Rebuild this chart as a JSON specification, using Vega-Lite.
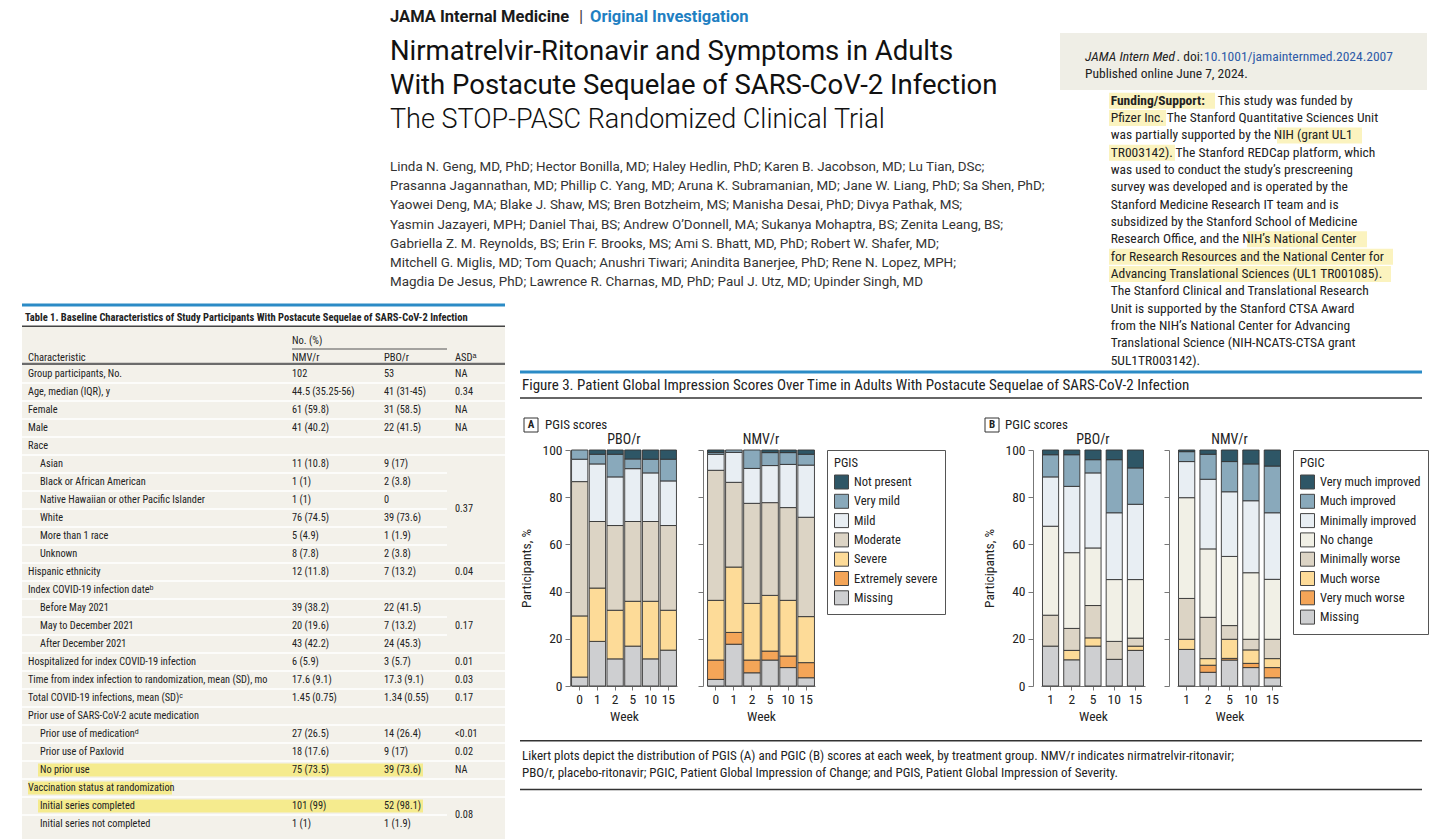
{
"$schema":"https://vega.github.io/schema/vega-lite/v6.json",
"padding":0,
"background":"white",
"columns":7,
"spacing":0,
"bounds":"flush",
"align":"each",
"resolve":{"scale":{"color":"independent"},"legend":{"color":"independent"}},
"datasets":{
"pgis":[
{"g":"PBO/r","w":"0","c":"Missing","v":3.8,"r":1},{"g":"PBO/r","w":"0","c":"Severe","v":25.9,"r":3},{"g":"PBO/r","w":"0","c":"Moderate","v":56.9,"r":4},{"g":"PBO/r","w":"0","c":"Mild","v":9.5,"r":5},{"g":"PBO/r","w":"0","c":"Very mild","v":3.9,"r":6},
{"g":"PBO/r","w":"1","c":"Missing","v":18.9,"r":1},{"g":"PBO/r","w":"1","c":"Severe","v":22.6,"r":3},{"g":"PBO/r","w":"1","c":"Moderate","v":28.2,"r":4},{"g":"PBO/r","w":"1","c":"Mild","v":24.4,"r":5},{"g":"PBO/r","w":"1","c":"Very mild","v":4.1,"r":6},{"g":"PBO/r","w":"1","c":"Not present","v":1.8,"r":7},
{"g":"PBO/r","w":"2","c":"Missing","v":11.5,"r":1},{"g":"PBO/r","w":"2","c":"Severe","v":20.6,"r":3},{"g":"PBO/r","w":"2","c":"Moderate","v":35.9,"r":4},{"g":"PBO/r","w":"2","c":"Mild","v":20.6,"r":5},{"g":"PBO/r","w":"2","c":"Very mild","v":9.6,"r":6},{"g":"PBO/r","w":"2","c":"Not present","v":1.8,"r":7},
{"g":"PBO/r","w":"5","c":"Missing","v":16.9,"r":1},{"g":"PBO/r","w":"5","c":"Severe","v":19.0,"r":3},{"g":"PBO/r","w":"5","c":"Moderate","v":33.8,"r":4},{"g":"PBO/r","w":"5","c":"Mild","v":22.4,"r":5},{"g":"PBO/r","w":"5","c":"Very mild","v":4.1,"r":6},{"g":"PBO/r","w":"5","c":"Not present","v":3.8,"r":7},
{"g":"PBO/r","w":"10","c":"Missing","v":11.5,"r":1},{"g":"PBO/r","w":"10","c":"Severe","v":24.4,"r":3},{"g":"PBO/r","w":"10","c":"Moderate","v":33.8,"r":4},{"g":"PBO/r","w":"10","c":"Mild","v":20.6,"r":5},{"g":"PBO/r","w":"10","c":"Very mild","v":5.8,"r":6},{"g":"PBO/r","w":"10","c":"Not present","v":3.9,"r":7},
{"g":"PBO/r","w":"15","c":"Missing","v":15.2,"r":1},{"g":"PBO/r","w":"15","c":"Severe","v":16.9,"r":3},{"g":"PBO/r","w":"15","c":"Moderate","v":35.9,"r":4},{"g":"PBO/r","w":"15","c":"Mild","v":18.9,"r":5},{"g":"PBO/r","w":"15","c":"Very mild","v":9.2,"r":6},{"g":"PBO/r","w":"15","c":"Not present","v":3.9,"r":7},
{"g":"NMV/r","w":"0","c":"Missing","v":2.8,"r":1},{"g":"NMV/r","w":"0","c":"Extremely severe","v":8.2,"r":2},{"g":"NMV/r","w":"0","c":"Severe","v":25.3,"r":3},{"g":"NMV/r","w":"0","c":"Moderate","v":55.1,"r":4},{"g":"NMV/r","w":"0","c":"Mild","v":6.8,"r":5},{"g":"NMV/r","w":"0","c":"Very mild","v":0.8,"r":6},{"g":"NMV/r","w":"0","c":"Not present","v":1.0,"r":7},
{"g":"NMV/r","w":"1","c":"Missing","v":17.7,"r":1},{"g":"NMV/r","w":"1","c":"Extremely severe","v":5.0,"r":2},{"g":"NMV/r","w":"1","c":"Severe","v":27.7,"r":3},{"g":"NMV/r","w":"1","c":"Moderate","v":35.9,"r":4},{"g":"NMV/r","w":"1","c":"Mild","v":12.7,"r":5},{"g":"NMV/r","w":"1","c":"Very mild","v":1.0,"r":6},
{"g":"NMV/r","w":"2","c":"Missing","v":5.6,"r":1},{"g":"NMV/r","w":"2","c":"Extremely severe","v":5.4,"r":2},{"g":"NMV/r","w":"2","c":"Severe","v":24.0,"r":3},{"g":"NMV/r","w":"2","c":"Moderate","v":42.4,"r":4},{"g":"NMV/r","w":"2","c":"Mild","v":14.8,"r":5},{"g":"NMV/r","w":"2","c":"Very mild","v":7.8,"r":6},
{"g":"NMV/r","w":"5","c":"Missing","v":11.0,"r":1},{"g":"NMV/r","w":"5","c":"Extremely severe","v":3.8,"r":2},{"g":"NMV/r","w":"5","c":"Severe","v":23.6,"r":3},{"g":"NMV/r","w":"5","c":"Moderate","v":39.3,"r":4},{"g":"NMV/r","w":"5","c":"Mild","v":15.7,"r":5},{"g":"NMV/r","w":"5","c":"Very mild","v":5.5,"r":6},{"g":"NMV/r","w":"5","c":"Not present","v":1.1,"r":7},
{"g":"NMV/r","w":"10","c":"Missing","v":7.8,"r":1},{"g":"NMV/r","w":"10","c":"Extremely severe","v":4.9,"r":2},{"g":"NMV/r","w":"10","c":"Severe","v":23.6,"r":3},{"g":"NMV/r","w":"10","c":"Moderate","v":39.3,"r":4},{"g":"NMV/r","w":"10","c":"Mild","v":18.3,"r":5},{"g":"NMV/r","w":"10","c":"Very mild","v":5.0,"r":6},{"g":"NMV/r","w":"10","c":"Not present","v":1.1,"r":7},
{"g":"NMV/r","w":"15","c":"Missing","v":3.5,"r":1},{"g":"NMV/r","w":"15","c":"Extremely severe","v":6.4,"r":2},{"g":"NMV/r","w":"15","c":"Severe","v":19.5,"r":3},{"g":"NMV/r","w":"15","c":"Moderate","v":42.1,"r":4},{"g":"NMV/r","w":"15","c":"Mild","v":22.1,"r":5},{"g":"NMV/r","w":"15","c":"Very mild","v":4.6,"r":6},{"g":"NMV/r","w":"15","c":"Not present","v":1.8,"r":7}
],
"pgic":[
{"g":"PBO/r","w":"1","c":"Missing","v":16.9,"r":1},{"g":"PBO/r","w":"1","c":"Minimally worse","v":13.1,"r":4},{"g":"PBO/r","w":"1","c":"No change","v":37.7,"r":5},{"g":"PBO/r","w":"1","c":"Minimally improved","v":20.9,"r":6},{"g":"PBO/r","w":"1","c":"Much improved","v":9.4,"r":7},{"g":"PBO/r","w":"1","c":"Very much improved","v":2.0,"r":8},
{"g":"PBO/r","w":"2","c":"Missing","v":11.1,"r":1},{"g":"PBO/r","w":"2","c":"Much worse","v":4.0,"r":3},{"g":"PBO/r","w":"2","c":"Minimally worse","v":9.3,"r":4},{"g":"PBO/r","w":"2","c":"No change","v":32.1,"r":5},{"g":"PBO/r","w":"2","c":"Minimally improved","v":28.1,"r":6},{"g":"PBO/r","w":"2","c":"Much improved","v":13.4,"r":7},{"g":"PBO/r","w":"2","c":"Very much improved","v":2.0,"r":8},
{"g":"PBO/r","w":"5","c":"Missing","v":16.9,"r":1},{"g":"PBO/r","w":"5","c":"Much worse","v":3.5,"r":3},{"g":"PBO/r","w":"5","c":"Minimally worse","v":13.7,"r":4},{"g":"PBO/r","w":"5","c":"No change","v":24.4,"r":5},{"g":"PBO/r","w":"5","c":"Minimally improved","v":31.8,"r":6},{"g":"PBO/r","w":"5","c":"Much improved","v":5.6,"r":7},{"g":"PBO/r","w":"5","c":"Very much improved","v":4.1,"r":8},
{"g":"PBO/r","w":"10","c":"Missing","v":11.3,"r":1},{"g":"PBO/r","w":"10","c":"Minimally worse","v":7.6,"r":4},{"g":"PBO/r","w":"10","c":"No change","v":26.2,"r":5},{"g":"PBO/r","w":"10","c":"Minimally improved","v":28.3,"r":6},{"g":"PBO/r","w":"10","c":"Much improved","v":22.5,"r":7},{"g":"PBO/r","w":"10","c":"Very much improved","v":4.1,"r":8},
{"g":"PBO/r","w":"15","c":"Missing","v":15.1,"r":1},{"g":"PBO/r","w":"15","c":"Much worse","v":1.8,"r":3},{"g":"PBO/r","w":"15","c":"Minimally worse","v":3.4,"r":4},{"g":"PBO/r","w":"15","c":"No change","v":24.8,"r":5},{"g":"PBO/r","w":"15","c":"Minimally improved","v":31.9,"r":6},{"g":"PBO/r","w":"15","c":"Much improved","v":15.4,"r":7},{"g":"PBO/r","w":"15","c":"Very much improved","v":7.6,"r":8},
{"g":"NMV/r","w":"1","c":"Missing","v":15.5,"r":1},{"g":"NMV/r","w":"1","c":"Much worse","v":4.3,"r":3},{"g":"NMV/r","w":"1","c":"Minimally worse","v":17.3,"r":4},{"g":"NMV/r","w":"1","c":"No change","v":42.7,"r":5},{"g":"NMV/r","w":"1","c":"Minimally improved","v":15.3,"r":6},{"g":"NMV/r","w":"1","c":"Much improved","v":4.2,"r":7},{"g":"NMV/r","w":"1","c":"Very much improved","v":0.7,"r":8},
{"g":"NMV/r","w":"2","c":"Missing","v":5.8,"r":1},{"g":"NMV/r","w":"2","c":"Very much worse","v":3.0,"r":2},{"g":"NMV/r","w":"2","c":"Much worse","v":2.8,"r":3},{"g":"NMV/r","w":"2","c":"Minimally worse","v":17.5,"r":4},{"g":"NMV/r","w":"2","c":"No change","v":29.0,"r":5},{"g":"NMV/r","w":"2","c":"Minimally improved","v":29.5,"r":6},{"g":"NMV/r","w":"2","c":"Much improved","v":10.6,"r":7},{"g":"NMV/r","w":"2","c":"Very much improved","v":1.8,"r":8},
{"g":"NMV/r","w":"5","c":"Missing","v":11.0,"r":1},{"g":"NMV/r","w":"5","c":"Very much worse","v":0.7,"r":2},{"g":"NMV/r","w":"5","c":"Much worse","v":8.1,"r":3},{"g":"NMV/r","w":"5","c":"Minimally worse","v":5.8,"r":4},{"g":"NMV/r","w":"5","c":"No change","v":29.3,"r":5},{"g":"NMV/r","w":"5","c":"Minimally improved","v":27.4,"r":6},{"g":"NMV/r","w":"5","c":"Much improved","v":12.8,"r":7},{"g":"NMV/r","w":"5","c":"Very much improved","v":4.9,"r":8},
{"g":"NMV/r","w":"10","c":"Missing","v":7.8,"r":1},{"g":"NMV/r","w":"10","c":"Very much worse","v":1.8,"r":2},{"g":"NMV/r","w":"10","c":"Much worse","v":5.7,"r":3},{"g":"NMV/r","w":"10","c":"Minimally worse","v":4.5,"r":4},{"g":"NMV/r","w":"10","c":"No change","v":28.2,"r":5},{"g":"NMV/r","w":"10","c":"Minimally improved","v":30.5,"r":6},{"g":"NMV/r","w":"10","c":"Much improved","v":15.6,"r":7},{"g":"NMV/r","w":"10","c":"Very much improved","v":5.9,"r":8},
{"g":"NMV/r","w":"15","c":"Missing","v":3.5,"r":1},{"g":"NMV/r","w":"15","c":"Very much worse","v":4.3,"r":2},{"g":"NMV/r","w":"15","c":"Much worse","v":3.8,"r":3},{"g":"NMV/r","w":"15","c":"Minimally worse","v":8.2,"r":4},{"g":"NMV/r","w":"15","c":"No change","v":25.4,"r":5},{"g":"NMV/r","w":"15","c":"Minimally improved","v":28.2,"r":6},{"g":"NMV/r","w":"15","c":"Much improved","v":19.8,"r":7},{"g":"NMV/r","w":"15","c":"Very much improved","v":6.8,"r":8}
],
"tbl":[
{"row":1,"ch":"Group participants, No.","ind":0,"n":"102","p":"53"},
{"row":2,"ch":"Age, median (IQR), y","ind":0,"n":"44.5 (35.25-56)","p":"41 (31-45)"},
{"row":3,"ch":"Female","ind":0,"n":"61 (59.8)","p":"31 (58.5)"},
{"row":4,"ch":"Male","ind":0,"n":"41 (40.2)","p":"22 (41.5)"},
{"row":5,"ch":"Race","ind":0,"n":"","p":""},
{"row":6,"ch":"Asian","ind":1,"n":"11 (10.8)","p":"9 (17)","sep":"g"},
{"row":7,"ch":"Black or African American","ind":1,"n":"1 (1)","p":"2 (3.8)","sep":"g"},
{"row":8,"ch":"Native Hawaiian or other Pacific Islander","ind":1,"n":"1 (1)","p":"0","sep":"g"},
{"row":9,"ch":"White","ind":1,"n":"76 (74.5)","p":"39 (73.6)","sep":"g"},
{"row":10,"ch":"More than 1 race","ind":1,"n":"5 (4.9)","p":"1 (1.9)","sep":"g"},
{"row":11,"ch":"Unknown","ind":1,"n":"8 (7.8)","p":"2 (3.8)"},
{"row":12,"ch":"Hispanic ethnicity","ind":0,"n":"12 (11.8)","p":"7 (13.2)"},
{"row":13,"ch":"Index COVID-19 infection dateᵇ","ind":0,"n":"","p":""},
{"row":14,"ch":"Before May 2021","ind":1,"n":"39 (38.2)","p":"22 (41.5)","sep":"g"},
{"row":15,"ch":"May to December 2021","ind":1,"n":"20 (19.6)","p":"7 (13.2)","sep":"g"},
{"row":16,"ch":"After December 2021","ind":1,"n":"43 (42.2)","p":"24 (45.3)"},
{"row":17,"ch":"Hospitalized for index COVID-19 infection","ind":0,"n":"6 (5.9)","p":"3 (5.7)"},
{"row":18,"ch":"Time from index infection to randomization, mean (SD), mo","ind":0,"n":"17.6 (9.1)","p":"17.3 (9.1)"},
{"row":19,"ch":"Total COVID-19 infections, mean (SD)ᶜ","ind":0,"n":"1.45 (0.75)","p":"1.34 (0.55)"},
{"row":20,"ch":"Prior use of SARS-CoV-2 acute medication","ind":0,"n":"","p":""},
{"row":21,"ch":"Prior use of medicationᵈ","ind":1,"n":"27 (26.5)","p":"14 (26.4)"},
{"row":22,"ch":"Prior use of Paxlovid","ind":1,"n":"18 (17.6)","p":"9 (17)"},
{"row":23,"ch":"No prior use","ind":1,"n":"75 (73.5)","p":"39 (73.6)","hl":"f"},
{"row":24,"ch":"Vaccination status at randomization","ind":0,"n":"","p":"","hl":"l"},
{"row":25,"ch":"Initial series completed","ind":1,"n":"101 (99)","p":"52 (98.1)","hl":"f","sep":"g"},
{"row":26,"ch":"Initial series not completed","ind":1,"n":"1 (1)","p":"1 (1.9)","sep":"none"}
],
"asd":[
{"row":1,"t":"NA"},{"row":2,"t":"0.34"},{"row":3,"t":"NA"},{"row":4,"t":"NA"},{"row":8.5,"t":"0.37"},{"row":12,"t":"0.04"},{"row":15,"t":"0.17"},{"row":17,"t":"0.01"},{"row":18,"t":"0.03"},{"row":19,"t":"0.17"},{"row":21,"t":"<0.01"},{"row":22,"t":"0.02"},{"row":23,"t":"NA"},{"row":25.5,"t":"0.08"}
]
},
"concat":[
{"width":22,"height":33,"data":{"values":[]},"mark":"point","encoding":{}},
{"width":498,"height":33,
 "layer":[
  {"data":{"values":[{"t":"JAMA Internal Medicine"}]},"mark":{"type":"text","font":"Roboto","fontSize":16.5,"fontWeight":"bold","color":"#1a1a1a"},"encoding":{"text":{"field":"t"},"x":{"value":368},"y":{"value":17}}},
  {"data":{"values":[{"t":"|"}]},"mark":{"type":"text","font":"Roboto","fontSize":17,"color":"#444"},"encoding":{"text":{"field":"t"},"x":{"value":557},"y":{"value":17}}},
  {"data":{"values":[{"t":"Original Investigation"}]},"mark":{"type":"text","font":"Roboto","fontSize":16.5,"fontWeight":"bold","color":"#1f80c2"},"encoding":{"text":{"field":"t"},"x":{"value":568},"y":{"value":17}}},
  {"data":{"values":[{"i":1,"t":"Nirmatrelvir-Ritonavir and Symptoms in Adults"},{"i":2,"t":"With Postacute Sequelae of SARS-CoV-2 Infection"}]},"mark":{"type":"text","font":"Roboto","fontSize":27.5,"color":"#111"},"encoding":{"text":{"field":"t"},"x":{"value":368},"y":{"field":"i","type":"quantitative","scale":{"domain":[1,2],"range":[52,86],"nice":false,"zero":false},"axis":null}}},
  {"data":{"values":[{"t":"The STOP-PASC Randomized Clinical Trial"}]},"mark":{"type":"text","font":"Roboto","fontSize":27,"fontWeight":300,"color":"#111"},"encoding":{"text":{"field":"t"},"x":{"value":368},"y":{"value":120}}},
  {"data":{"values":[
   {"j":1,"t":"Linda N. Geng, MD, PhD; Hector Bonilla, MD; Haley Hedlin, PhD; Karen B. Jacobson, MD; Lu Tian, DSc;"},
   {"j":2,"t":"Prasanna Jagannathan, MD; Phillip C. Yang, MD; Aruna K. Subramanian, MD; Jane W. Liang, PhD; Sa Shen, PhD;"},
   {"j":3,"t":"Yaowei Deng, MA; Blake J. Shaw, MS; Bren Botzheim, MS; Manisha Desai, PhD; Divya Pathak, MS;"},
   {"j":4,"t":"Yasmin Jazayeri, MPH; Daniel Thai, BS; Andrew O’Donnell, MA; Sukanya Mohaptra, BS; Zenita Leang, BS;"},
   {"j":5,"t":"Gabriella Z. M. Reynolds, BS; Erin F. Brooks, MS; Ami S. Bhatt, MD, PhD; Robert W. Shafer, MD;"},
   {"j":6,"t":"Mitchell G. Miglis, MD; Tom Quach; Anushri Tiwari; Anindita Banerjee, PhD; Rene N. Lopez, MPH;"},
   {"j":7,"t":"Magdia De Jesus, PhD; Lawrence R. Charnas, MD, PhD; Paul J. Utz, MD; Upinder Singh, MD"}]},
   "mark":{"type":"text","font":"Roboto","fontSize":13.4,"color":"#333"},"encoding":{"text":{"field":"t"},"x":{"value":368},"y":{"field":"j","type":"quantitative","scale":{"domain":[1,7],"range":[167,282],"nice":false,"zero":false},"axis":null}}}
 ],
 "resolve":{"scale":{"y":"independent"}}},
{"width":51,"height":1,"data":{"values":[]},"mark":"point","encoding":{}},
{"width":136,"height":1,"data":{"values":[]},"mark":"point","encoding":{}},
{"width":334,"height":1,"data":{"values":[]},"mark":"point","encoding":{}},
{"width":136,"height":1,"data":{"values":[]},"mark":"point","encoding":{}},
{"width":279,"height":1,"data":{"values":[]},"mark":"point","encoding":{}},

{"width":22,"height":270,"data":{"values":[]},"mark":"point","encoding":{}},
{"width":1,"height":1,"data":{"values":[]},"mark":"point","encoding":{}},
{"width":1,"height":1,"data":{"values":[]},"mark":"point","encoding":{}},
{"width":1,"height":1,"data":{"values":[]},"mark":"point","encoding":{}},
{"width":1,"height":1,"data":{"values":[]},"mark":"point","encoding":{}},
{"width":136,"height":270,
 "layer":[
  {"data":{"values":[{}]},"mark":{"type":"rect","color":"#efeee6"},"encoding":{"x":{"value":19},"x2":{"value":386},"y":{"value":0},"y2":{"value":57}}},
  {"data":{"values":[{}]},"mark":{"type":"rule","color":"#fbf3bf","strokeWidth":16},"encoding":{"x":{"value":68},"x2":{"value":174},"y":{"value":67.7}}},
  {"data":{"values":[{}]},"mark":{"type":"rule","color":"#fbf3bf","strokeWidth":16},"encoding":{"x":{"value":68},"x2":{"value":125},"y":{"value":85.0}}},
  {"data":{"values":[{}]},"mark":{"type":"rule","color":"#fbf3bf","strokeWidth":16},"encoding":{"x":{"value":236},"x2":{"value":321},"y":{"value":102.4}}},
  {"data":{"values":[{}]},"mark":{"type":"rule","color":"#fbf3bf","strokeWidth":16},"encoding":{"x":{"value":68},"x2":{"value":134},"y":{"value":119.7}}},
  {"data":{"values":[{}]},"mark":{"type":"rule","color":"#fbf3bf","strokeWidth":16},"encoding":{"x":{"value":206},"x2":{"value":326},"y":{"value":206.3}}},
  {"data":{"values":[{}]},"mark":{"type":"rule","color":"#fbf3bf","strokeWidth":16},"encoding":{"x":{"value":68},"x2":{"value":352},"y":{"value":223.7}}},
  {"data":{"values":[{}]},"mark":{"type":"rule","color":"#fbf3bf","strokeWidth":16},"encoding":{"x":{"value":68},"x2":{"value":350},"y":{"value":241.0}}},
  {"data":{"values":[{"t":"JAMA Intern Med"}]},"mark":{"type":"text","fontSize":13.5,"fontStyle":"italic","color":"#222"},"encoding":{"text":{"field":"t"},"x":{"value":44},"y":{"value":24}}},
  {"data":{"values":[{"t":". doi:"}]},"mark":{"type":"text","align":"right","fontSize":13.5,"color":"#222"},"encoding":{"text":{"field":"t"},"x":{"value":162},"y":{"value":24}}},
  {"data":{"values":[{"t":"10.1001/jamainternmed.2024.2007"}]},"mark":{"type":"text","fontSize":13.5,"color":"#2e5aa6"},"encoding":{"text":{"field":"t"},"x":{"value":163},"y":{"value":24}}},
  {"data":{"values":[{"t":"Published online June 7, 2024."}]},"mark":{"type":"text","fontSize":13.5,"color":"#222"},"encoding":{"text":{"field":"t"},"x":{"value":44},"y":{"value":41}}},
  {"data":{"values":[{"t":"Funding/Support:"}]},"mark":{"type":"text","fontSize":13.5,"fontWeight":"bold","color":"#222"},"encoding":{"text":{"field":"t"},"x":{"value":69.7},"y":{"value":67.7}}},
  {"data":{"values":[{"t":"This study was funded by"}]},"mark":{"type":"text","fontSize":13.5,"color":"#222"},"encoding":{"text":{"field":"t"},"x":{"value":176.7},"y":{"value":67.7}}},
  {"data":{"values":[
   {"i":2,"t":"Pfizer Inc. The Stanford Quantitative Sciences Unit"},
   {"i":3,"t":"was partially supported by the NIH (grant UL1"},
   {"i":4,"t":"TR003142). The Stanford REDCap platform, which"},
   {"i":5,"t":"was used to conduct the study’s prescreening"},
   {"i":6,"t":"survey was developed and is operated by the"},
   {"i":7,"t":"Stanford Medicine Research IT team and is"},
   {"i":8,"t":"subsidized by the Stanford School of Medicine"},
   {"i":9,"t":"Research Office, and the NIH’s National Center"},
   {"i":10,"t":"for Research Resources and the National Center for"},
   {"i":11,"t":"Advancing Translational Sciences (UL1 TR001085)."},
   {"i":12,"t":"The Stanford Clinical and Translational Research"},
   {"i":13,"t":"Unit is supported by the Stanford CTSA Award"},
   {"i":14,"t":"from the NIH’s National Center for Advancing"},
   {"i":15,"t":"Translational Science (NIH-NCATS-CTSA grant"},
   {"i":16,"t":"5UL1TR003142)."}]},
   "mark":{"type":"text","fontSize":13.5,"color":"#222"},"encoding":{"text":{"field":"t"},"x":{"value":69.7},"y":{"field":"i","type":"quantitative","scale":{"domain":[2,16],"range":[85.0,327.7],"nice":false,"zero":false},"axis":null}}}
 ]},
{"width":1,"height":1,"data":{"values":[]},"mark":"point","encoding":{}},

{"width":22,"height":24,"data":{"values":[]},"mark":"point","encoding":{}},
{"width":483,"height":24,
 "layer":[
  {"data":{"values":[{}]},"mark":{"type":"rule","color":"#2b8bc6","strokeWidth":3},"encoding":{"x":{"value":0},"x2":{"value":"width"},"y":{"value":2}}},
  {"data":{"values":[{"t":"Table 1. Baseline Characteristics of Study Participants With Postacute Sequelae of SARS-CoV-2 Infection"}]},"mark":{"type":"text","fontSize":10.5,"fontWeight":"bold","color":"#222"},"encoding":{"text":{"field":"t"},"x":{"value":3},"y":{"value":15}}},
  {"data":{"values":[{}]},"mark":{"type":"rule","color":"#444","strokeWidth":1.5},"encoding":{"x":{"value":0},"x2":{"value":"width"},"y":{"value":23.3}}}
 ]},
{"width":1,"height":1,"data":{"values":[]},"mark":"point","encoding":{}},
{"width":1,"height":1,"data":{"values":[]},"mark":"point","encoding":{}},
{"width":1,"height":1,"data":{"values":[]},"mark":"point","encoding":{}},
{"width":1,"height":1,"data":{"values":[]},"mark":"point","encoding":{}},
{"width":1,"height":1,"data":{"values":[]},"mark":"point","encoding":{}},

{"width":22,"height":38,"data":{"values":[]},"mark":"point","encoding":{}},
{"width":483,"height":38,"view":{"fill":"#f3f1ea"},
 "layer":[
  {"data":{"values":[{"t":"No. (%)"}]},"mark":{"type":"text","fontSize":10.5,"color":"#222"},"encoding":{"text":{"field":"t"},"x":{"value":270},"y":{"value":14}}},
  {"data":{"values":[{}]},"mark":{"type":"rule","color":"#555","strokeWidth":1.2},"encoding":{"x":{"value":270},"x2":{"value":425},"y":{"value":22}}},
  {"data":{"values":[{"t":"Characteristic"}]},"mark":{"type":"text","fontSize":10.5,"color":"#222"},"encoding":{"text":{"field":"t"},"x":{"value":6},"y":{"value":31}}},
  {"data":{"values":[{"t":"NMV/r"}]},"mark":{"type":"text","fontSize":10.5,"color":"#222"},"encoding":{"text":{"field":"t"},"x":{"value":270},"y":{"value":31}}},
  {"data":{"values":[{"t":"PBO/r"}]},"mark":{"type":"text","fontSize":10.5,"color":"#222"},"encoding":{"text":{"field":"t"},"x":{"value":362},"y":{"value":31}}},
  {"data":{"values":[{"t":"ASDᵃ"}]},"mark":{"type":"text","fontSize":10.5,"color":"#222"},"encoding":{"text":{"field":"t"},"x":{"value":433},"y":{"value":31}}},
  {"data":{"values":[{}]},"mark":{"type":"rule","color":"#6b6b6b","strokeWidth":2.5},"encoding":{"x":{"value":0},"x2":{"value":"width"},"y":{"value":37}}}
 ]},
{"width":1,"height":1,"data":{"values":[]},"mark":"point","encoding":{}},
{"width":1,"height":1,"data":{"values":[]},"mark":"point","encoding":{}},
{"width":1,"height":1,"data":{"values":[]},"mark":"point","encoding":{}},
{"width":1,"height":1,"data":{"values":[]},"mark":"point","encoding":{}},
{"width":1,"height":1,"data":{"values":[]},"mark":"point","encoding":{}},

{"width":22,"height":5,"data":{"values":[]},"mark":"point","encoding":{}},
{"width":483,"height":5,
 "encoding":{"y":{"field":"row","type":"quantitative","scale":{"domain":[0.5,26.8333],"range":[0,474],"nice":false,"zero":false},"axis":null}},
 "layer":[
  {"data":{"values":[{}]},"mark":{"type":"rect","color":"#f3f1ea"},"encoding":{"x":{"value":0},"x2":{"value":483},"y":{"value":0},"y2":{"value":474}}},
  {"data":{"name":"tbl"},"transform":[{"filter":"datum.row < 26 && datum.sep !== 'g'"}],"mark":{"type":"rule","color":"#ffffff","strokeWidth":1.5},"encoding":{"x":{"value":0},"x2":{"value":483},"yOffset":{"value":9}}},
  {"data":{"name":"tbl"},"transform":[{"filter":"datum.sep === 'g'"}],"mark":{"type":"rule","color":"#ffffff","strokeWidth":1.5},"encoding":{"x":{"value":0},"x2":{"value":425},"yOffset":{"value":9}}},
  {"data":{"name":"tbl"},"transform":[{"filter":"datum.hl === 'f'"}],"mark":{"type":"rule","color":"#f5eb8e","strokeWidth":13},"encoding":{"x":{"value":16},"x2":{"value":401}}},
  {"data":{"name":"tbl"},"transform":[{"filter":"datum.hl === 'l'"}],"mark":{"type":"rule","color":"#f5eb8e","strokeWidth":13},"encoding":{"x":{"value":6},"x2":{"value":150}}},
  {"data":{"name":"tbl"},"transform":[{"filter":"datum.ind === 0"}],"mark":{"type":"text","fontSize":10.3,"color":"#222"},"encoding":{"text":{"field":"ch"},"x":{"value":6}}},
  {"data":{"name":"tbl"},"transform":[{"filter":"datum.ind === 1"}],"mark":{"type":"text","fontSize":10.3,"color":"#222"},"encoding":{"text":{"field":"ch"},"x":{"value":18}}},
  {"data":{"name":"tbl"},"mark":{"type":"text","fontSize":10.3,"color":"#222"},"encoding":{"text":{"field":"n"},"x":{"value":270}}},
  {"data":{"name":"tbl"},"mark":{"type":"text","fontSize":10.3,"color":"#222"},"encoding":{"text":{"field":"p"},"x":{"value":362}}},
  {"data":{"name":"asd"},"mark":{"type":"text","fontSize":10.3,"color":"#222"},"encoding":{"text":{"field":"t"},"x":{"value":433}}}
 ]},
{"width":1,"height":1,"data":{"values":[]},"mark":"point","encoding":{}},
{"width":1,"height":1,"data":{"values":[]},"mark":"point","encoding":{}},
{"width":1,"height":1,"data":{"values":[]},"mark":"point","encoding":{}},
{"width":1,"height":1,"data":{"values":[]},"mark":"point","encoding":{}},
{"width":1,"height":1,"data":{"values":[]},"mark":"point","encoding":{}},

{"width":22,"height":80,"data":{"values":[]},"mark":"point","encoding":{}},
{"width":1,"height":1,"data":{"values":[]},"mark":"point","encoding":{}},
{"width":51,"height":80,
 "layer":[
  {"data":{"values":[{}]},"mark":{"type":"rule","color":"#2b8bc6","strokeWidth":3},"encoding":{"x":{"value":0},"x2":{"value":902},"y":{"value":2}}},
  {"data":{"values":[{"t":"Figure 3. Patient Global Impression Scores Over Time in Adults With Postacute Sequelae of SARS-CoV-2 Infection"}]},"mark":{"type":"text","fontSize":15,"color":"#222"},"encoding":{"text":{"field":"t"},"x":{"value":2},"y":{"value":15}}},
  {"data":{"values":[{}]},"mark":{"type":"rule","color":"#333","strokeWidth":1.5},"encoding":{"x":{"value":0},"x2":{"value":902},"y":{"value":28}}},
  {"data":{"values":[{}]},"mark":{"type":"square","filled":false,"stroke":"#333","strokeWidth":1,"size":196,"opacity":1},"encoding":{"x":{"value":11},"y":{"value":55}}},
  {"data":{"values":[{"k":"A"}]},"mark":{"type":"text","align":"center","fontSize":11,"fontWeight":"bold","color":"#222"},"encoding":{"text":{"field":"k"},"x":{"value":11},"y":{"value":55}}},
  {"data":{"values":[{"t":"PGIS scores"}]},"mark":{"type":"text","fontSize":13,"color":"#222"},"encoding":{"text":{"field":"t"},"x":{"value":25},"y":{"value":55}}},
  {"data":{"values":[{}]},"mark":{"type":"square","filled":false,"stroke":"#333","strokeWidth":1,"size":196,"opacity":1},"encoding":{"x":{"value":472},"y":{"value":55}}},
  {"data":{"values":[{"k":"B"}]},"mark":{"type":"text","align":"center","fontSize":11,"fontWeight":"bold","color":"#222"},"encoding":{"text":{"field":"k"},"x":{"value":472},"y":{"value":55}}},
  {"data":{"values":[{"t":"PGIC scores"}]},"mark":{"type":"text","fontSize":13,"color":"#222"},"encoding":{"text":{"field":"t"},"x":{"value":485},"y":{"value":55}}}
 ]},
{"width":1,"height":1,"data":{"values":[]},"mark":"point","encoding":{}},
{"width":1,"height":1,"data":{"values":[]},"mark":"point","encoding":{}},
{"width":1,"height":1,"data":{"values":[]},"mark":"point","encoding":{}},
{"width":1,"height":1,"data":{"values":[]},"mark":"point","encoding":{}},

{"width":22,"height":290,"data":{"values":[]},"mark":"point","encoding":{}},
{"width":1,"height":1,"data":{"values":[]},"mark":"point","encoding":{}},
{"width":1,"height":1,"data":{"values":[]},"mark":"point","encoding":{}},
{"width":106,"height":236,"data":{"name":"pgis"},"transform":[{"filter":"datum.g === 'PBO/r'"}],"title":{"text":"PBO/r","offset":-4},
 "mark":{"type":"bar","stroke":"#333333","strokeWidth":0.9},
 "encoding":{
  "x":{"field":"w","type":"ordinal","sort":["0","1","2","5","10","15"],"scale":{"paddingInner":0.08,"paddingOuter":0.03},"axis":{"title":"Week","labelAngle":0,"tickSize":4,"labelPadding":2,"titlePadding":4}},
  "y":{"field":"v","type":"quantitative","stack":"zero","scale":{"domain":[0,100],"nice":false},"axis":{"title":"Participants, %","values":[0,20,40,60,80,100],"tickSize":5,"labelPadding":3,"titlePadding":9,"offset":1}},
  "color":{"field":"c","type":"nominal","scale":{"domain":["Not present","Very mild","Mild","Moderate","Severe","Extremely severe","Missing"],"range":["#2e5666","#89a9bb","#e8eef3","#dcd4c5","#fddb98","#f4a558","#cecfd1"]},"legend":null},
  "order":{"field":"r","type":"quantitative"}}},
{"width":108,"height":236,"data":{"name":"pgis"},"transform":[{"filter":"datum.g === 'NMV/r'"}],"title":{"text":"NMV/r","offset":3},
 "mark":{"type":"bar","stroke":"#333333","strokeWidth":0.9},
 "encoding":{
  "x":{"field":"w","type":"ordinal","sort":["0","1","2","5","10","15"],"scale":{"paddingInner":0.08,"paddingOuter":0.03},"axis":{"title":"Week","labelAngle":0,"tickSize":4,"labelPadding":2,"titlePadding":4}},
  "y":{"field":"v","type":"quantitative","stack":"zero","scale":{"domain":[0,100],"nice":false},"axis":{"title":null,"labels":false,"values":[0,20,40,60,80,100],"tickSize":5,"offset":4}},
  "color":{"field":"c","type":"nominal","scale":{"domain":["Not present","Very mild","Mild","Moderate","Severe","Extremely severe","Missing"],"range":["#2e5666","#89a9bb","#e8eef3","#dcd4c5","#fddb98","#f4a558","#cecfd1"]},"legend":{"title":"PGIS","offset":12}},
  "order":{"field":"r","type":"quantitative"}}},
{"width":104,"height":236,"data":{"name":"pgic"},"transform":[{"filter":"datum.g === 'PBO/r'"}],"title":{"text":"PBO/r","offset":-4},
 "mark":{"type":"bar","stroke":"#333333","strokeWidth":0.9},
 "encoding":{
  "x":{"field":"w","type":"ordinal","sort":["1","2","5","10","15"],"scale":{"paddingInner":0.24,"paddingOuter":0.07},"axis":{"title":"Week","labelAngle":0,"tickSize":4,"labelPadding":2,"titlePadding":4}},
  "y":{"field":"v","type":"quantitative","stack":"zero","scale":{"domain":[0,100],"nice":false},"axis":{"title":"Participants, %","values":[0,20,40,60,80,100],"tickSize":5,"labelPadding":3,"titlePadding":9,"offset":8}},
  "color":{"field":"c","type":"nominal","scale":{"domain":["Very much improved","Much improved","Minimally improved","No change","Minimally worse","Much worse","Very much worse","Missing"],"range":["#2e5666","#89a9bb","#e8eef3","#f1f0e6","#dcd4c5","#fddb98","#f4a558","#cecfd1"]},"legend":null},
  "order":{"field":"r","type":"quantitative"}}},
{"width":105,"height":236,"data":{"name":"pgic"},"transform":[{"filter":"datum.g === 'NMV/r'"}],"title":{"text":"NMV/r","offset":3},
 "mark":{"type":"bar","stroke":"#333333","strokeWidth":0.9},
 "encoding":{
  "x":{"field":"w","type":"ordinal","sort":["1","2","5","10","15"],"scale":{"paddingInner":0.24,"paddingOuter":0.07},"axis":{"title":"Week","labelAngle":0,"tickSize":4,"labelPadding":2,"titlePadding":4}},
  "y":{"field":"v","type":"quantitative","stack":"zero","scale":{"domain":[0,100],"nice":false},"axis":{"title":null,"labels":false,"values":[0,20,40,60,80,100],"tickSize":5,"offset":8}},
  "color":{"field":"c","type":"nominal","scale":{"domain":["Very much improved","Much improved","Minimally improved","No change","Minimally worse","Much worse","Very much worse","Missing"],"range":["#2e5666","#89a9bb","#e8eef3","#f1f0e6","#dcd4c5","#fddb98","#f4a558","#cecfd1"]},"legend":{"title":"PGIC","offset":11}},
  "order":{"field":"r","type":"quantitative"}}},

{"width":22,"height":99,"data":{"values":[]},"mark":"point","encoding":{}},
{"width":1,"height":1,"data":{"values":[]},"mark":"point","encoding":{}},
{"width":51,"height":50,
 "layer":[
  {"data":{"values":[{}]},"mark":{"type":"rule","color":"#333","strokeWidth":1.5},"encoding":{"x":{"value":0},"x2":{"value":902},"y":{"value":0.75}}},
  {"data":{"values":[{"i":1,"t":"Likert plots depict the distribution of PGIS (A) and PGIC (B) scores at each week, by treatment group. NMV/r indicates nirmatrelvir-ritonavir;"},{"i":2,"t":"PBO/r, placebo-ritonavir; PGIC, Patient Global Impression of Change; and PGIS, Patient Global Impression of Severity."}]},
   "mark":{"type":"text","fontSize":13,"color":"#222"},"encoding":{"text":{"field":"t"},"x":{"value":2},"y":{"field":"i","type":"quantitative","scale":{"domain":[1,2],"range":[16,33],"nice":false,"zero":false},"axis":null}}},
  {"data":{"values":[{}]},"mark":{"type":"rule","color":"#333","strokeWidth":1.5},"encoding":{"x":{"value":0},"x2":{"value":902},"y":{"value":49.5}}}
 ]},
{"width":1,"height":1,"data":{"values":[]},"mark":"point","encoding":{}},
{"width":1,"height":1,"data":{"values":[]},"mark":"point","encoding":{}},
{"width":1,"height":1,"data":{"values":[]},"mark":"point","encoding":{}},
{"width":1,"height":1,"data":{"values":[]},"mark":"point","encoding":{}}
],
"config":{
 "view":{"stroke":null},
 "font":"Liberation Sans Narrow, Arial Narrow, Roboto Condensed, Roboto, sans-serif",
 "text":{"align":"left","baseline":"middle","color":"#222"},
 "axis":{"labelFontSize":13.5,"titleFontSize":13.5,"titleFontWeight":"normal","labelColor":"#222","titleColor":"#222","domainColor":"#777","tickColor":"#777","grid":false},
 "title":{"fontSize":14,"fontWeight":"normal","color":"#222","offset":-4,"frame":"group"},
 "legend":{"orient":"right","padding":7,"strokeColor":"#555555","fillColor":"#ffffff","symbolType":"square","symbolSize":196,"symbolStrokeColor":"#444444","symbolStrokeWidth":1,"labelFontSize":12.5,"titleFontSize":12.5,"titleFontWeight":"normal","rowPadding":0.3,"titlePadding":5,"labelOffset":5,"labelColor":"#222","titleColor":"#222","labelLimit":250}
}
}
